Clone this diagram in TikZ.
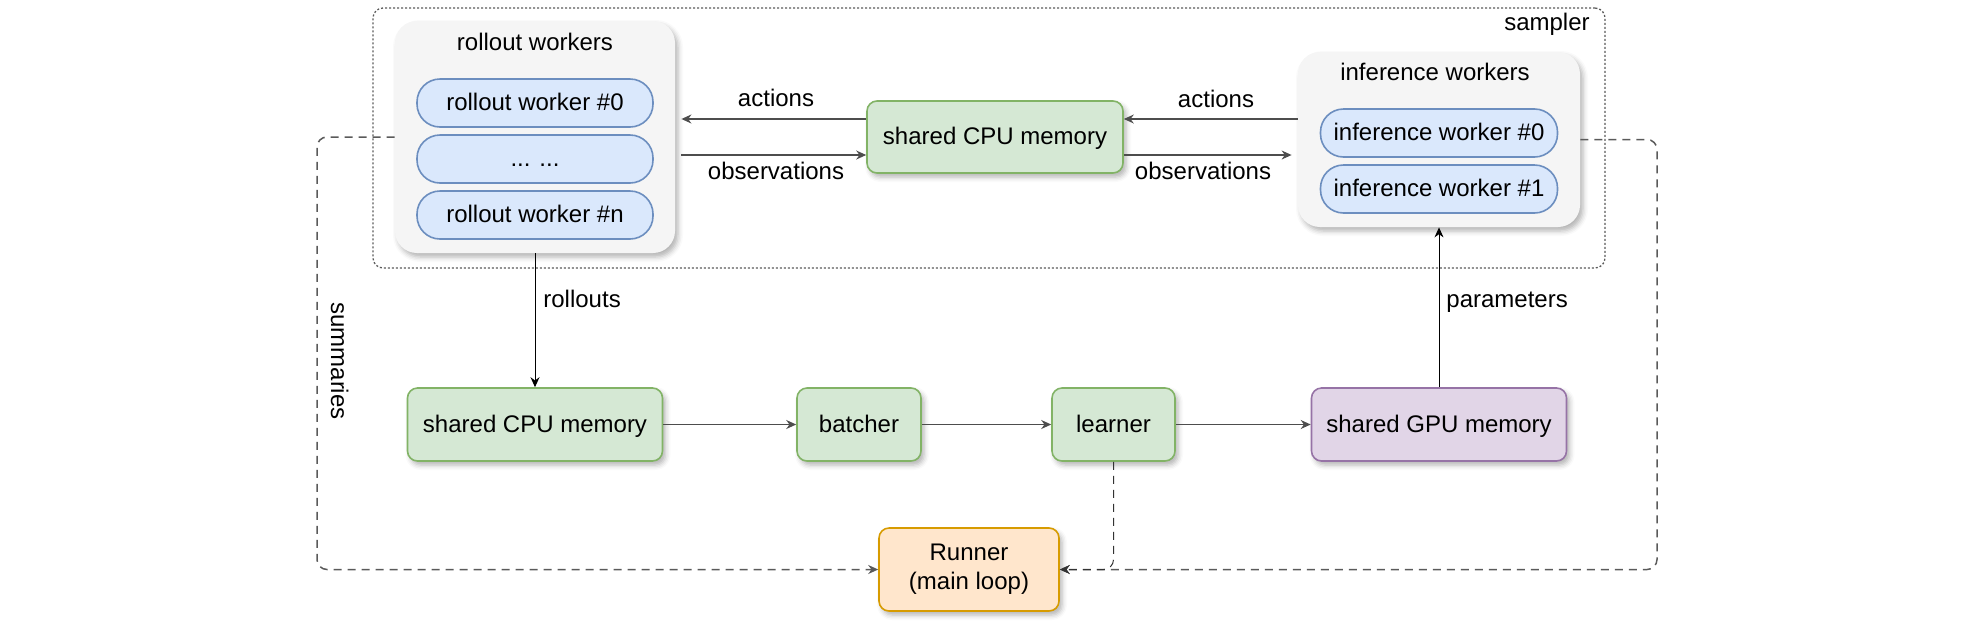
\documentclass[tikz,border=0pt]{standalone}
\usepackage{fontspec}
\setmainfont{Liberation Sans}
\usetikzlibrary{arrows.meta,calc,shadows.blur}
\definecolor{gfill}{HTML}{D5E8D4}\definecolor{gline}{HTML}{82B366}
\definecolor{bfill}{HTML}{DAE8FC}\definecolor{bline}{HTML}{6C8EBF}
\definecolor{pfill}{HTML}{E1D5E7}\definecolor{pline}{HTML}{9673A6}
\definecolor{ofill}{HTML}{FFE6CC}\definecolor{oline}{HTML}{D79B00}
\definecolor{cfill}{HTML}{F5F5F5}
\definecolor{conncol}{HTML}{4D4D4D}
\definecolor{dashcol}{HTML}{5A5A5A}
\begin{document}
\begin{tikzpicture}[x=0.5pt,y=-0.5pt,font=\fontsize{12}{14.4}\selectfont,
  shad/.style={blur shadow={shadow xshift=1.5pt,shadow yshift=-2pt,shadow opacity=30,shadow blur radius=2.5pt}},
  txt/.style={text height=10.4pt,text depth=2.5pt},
  gbox/.style={draw=gline,fill=gfill,line width=0.8pt,rounded corners=5pt,shad,inner sep=0pt,txt},
  pbox/.style={draw=pline,fill=pfill,line width=0.8pt,rounded corners=5pt,shad,inner sep=0pt,txt},
  obox/.style={draw=oline,fill=ofill,line width=0.8pt,rounded corners=5pt,shad,inner sep=0pt,align=center},
  pill/.style={draw=bline,fill=bfill,line width=0.8pt,rounded corners=11.5pt,inner sep=0pt,minimum height=24pt,txt},
  cont/.style={fill=cfill,rounded corners=11pt,shad,inner sep=0pt},
  lbl/.style={inner sep=0pt,txt},
  conn/.style={draw=conncol,line width=0.7pt,-{Stealth[length=5pt,width=4.5pt]}},
  thinarr/.style={draw=black,line width=0.5pt,-{Stealth[length=5pt,width=4.5pt]}},
  sumline/.style={draw=dashcol,line width=0.75pt,dash pattern=on 4pt off 3pt,rounded corners=5pt,-{Stealth[length=5pt,width=4.5pt]}},
  lrnline/.style={draw=black!80,line width=0.5pt,dash pattern=on 4pt off 3pt,rounded corners=5pt,-{Stealth[length=5pt,width=4.5pt]}},
  samplerbox/.style={draw=dashcol,line width=0.65pt,dash pattern=on 1pt off 1pt,rounded corners=5pt,inner sep=0pt}
]
\useasboundingbox (0,0) rectangle (1984,622);

% sampler frame
\node[samplerbox,minimum width=616pt,minimum height=130pt] (sampler) at (989,138) {};
\node[lbl,anchor=east] (samplerlbl) at (1590,23) {sampler};

% coordinates for summaries
\coordinate (sumL) at (317,0);
\coordinate (sumR) at (1657,0);

% containers
\node[cont,minimum width=140pt,minimum height=116pt] (rw) at (535,137) {};
\node[cont,minimum width=141pt,minimum height=87.5pt] (iw) at (1439,139.5) {};

\node[lbl] (rwt) at (535,43) {rollout workers};
\node[pill,minimum width=118pt] (rw0) at (535,103) {rollout worker \#0};
\node[pill,minimum width=118pt] (rwd) at (535,159) {... ...};
\node[pill,minimum width=118pt] (rwn) at (535,215) {rollout worker \#n};

\node[lbl] (iwt) at (1435,73) {inference workers};
\node[pill,minimum width=118.5pt] (iw0) at (1439,133) {inference worker \#0};
\node[pill,minimum width=118.5pt] (iw1) at (1439,189) {inference worker \#1};

% nodes
\node[gbox,minimum width=128pt,minimum height=36pt] (cpu1) at (995,137) {shared CPU memory};
\node[gbox,minimum width=127.5pt,minimum height=36.5pt] (cpu2) at (535,424.5) {shared CPU memory};
\node[gbox,minimum width=62pt,minimum height=36.5pt] (batcher) at (859,424.5) {batcher};
\node[gbox,minimum width=61.5pt,minimum height=36.5pt] (learner) at (1113.5,424.5) {learner};
\node[pbox,minimum width=127.5pt,minimum height=36.5pt] (gpu) at (1439,424.5) {shared GPU memory};
\node[obox,minimum width=90pt,minimum height=41.5pt] (runner) at (969,569.5) {Runner\\(main loop)};

% summaries
\draw[sumline] (rw.west) -- (rw.west -| sumL) |- (runner.west);
\draw[sumline] (iw.east) -- (iw.east -| sumR) |- (runner.east);
\draw[lrnline] (learner.south) |- (runner.east);

% actions / observations
\coordinate (a1) at ($(cpu1.east)+(0,-18)$);
\coordinate (a2) at ($(cpu1.west)+(0,-18)$);
\coordinate (o1) at ($(cpu1.west)+(0,18)$);
\coordinate (o2) at ($(cpu1.east)+(0,18)$);
\draw[conn] (a1 -| iw.west) -- (a1);
\draw[conn,shorten >=3pt] (a2) -- (a2 -| rw.east);
\draw[conn,shorten <=3pt] (o1 -| rw.east) -- (o1);
\draw[conn,shorten >=3pt] (o2) -- (o2 -| iw.west);
\node[lbl] (actL) at (776,99) {actions};
\node[lbl] (actR) at (1216,100) {actions};
\node[lbl] (obsL) at (776,172) {observations};
\node[lbl] (obsR) at (1203,172) {observations};

% rollouts / parameters
\draw[thinarr] (rw.south) -- (cpu2.north);
\node[lbl,anchor=west] (rolllbl) at (543,300) {rollouts};
\draw[thinarr] (gpu.north) -- (iw.south);
\node[lbl,anchor=west] (paramlbl) at (1446,300) {parameters};

% flow
\draw[conn] (cpu2) -- (batcher);
\draw[conn] (batcher) -- (learner);
\draw[conn] (learner) -- (gpu);

% summaries label
\node[lbl,rotate=-90] (sumlbl) at (339,361) {summaries};
\end{tikzpicture}
\end{document}
